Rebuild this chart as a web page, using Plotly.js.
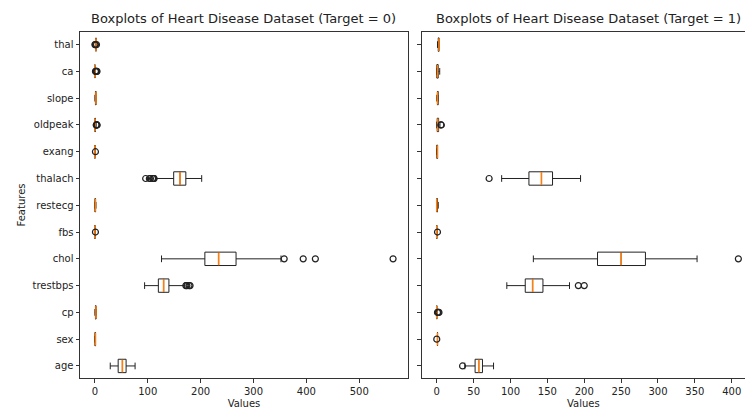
<!DOCTYPE html>
<html>
<head>
<meta charset="utf-8">
<script src="https://cdn.plot.ly/plotly-3.0.1.min.js"></script>
<style>html,body{margin:0;padding:0;background:#fff;overflow:hidden;}#chart{width:745px;height:412px;}</style>
</head>
<body>
<div id="chart"></div>
<script>
// Features (bottom to top)
var features = ['age','sex','cp','trestbps','chol','fbs','restecg','thalach','exang','oldpeak','slope','ca','thal'];

// Panel 1: Target = 0
var lf_t0  = [29, 0, 0,  94, 126, 0, 0, 115, 0, 0,   0, 0, 2];
var q1_t0  = [44, 0, 1, 120, 208, 0, 0, 149, 0, 0,   1, 0, 2];
var med_t0 = [52, 1, 2, 130, 234, 0, 1, 161, 0, 0.2, 2, 0, 2];
var q3_t0  = [59, 1, 2, 140, 267, 0, 1, 172, 0, 1.0, 2, 0, 2];
var uf_t0  = [76, 1, 3, 170, 352, 0, 2, 202, 0, 2.4, 2, 0, 2];
var outFeat_t0 = ['trestbps','trestbps','trestbps','trestbps','chol','chol','chol','chol','fbs','thalach','thalach','thalach','thalach','thalach','thalach','exang','oldpeak','oldpeak','oldpeak','oldpeak','oldpeak','ca','ca','ca','ca','thal','thal','thal'];
var outVal_t0  = [172, 174, 178, 180, 358, 394, 417, 564, 1, 96, 103, 105, 109, 111, 112, 1, 2.6, 2.8, 3.0, 3.5, 4.2, 1, 2, 3, 4, 0, 1, 3];

// Panel 2: Target = 1
var lf_t1  = [38, 1, 0,  95, 131, 0, 0,  88, 0, 0,   0, 0, 1];
var q1_t1  = [52, 1, 0, 120, 218, 0, 0, 125, 0, 0.6, 1, 0, 2];
var med_t1 = [57, 1, 0, 130, 250, 0, 0, 142, 1, 1.4, 1, 1, 3];
var q3_t1  = [62, 1, 0, 144, 283, 0, 1, 157, 1, 2.5, 2, 2, 3];
var uf_t1  = [77, 1, 0, 180, 353, 0, 2, 195, 1, 4.4, 2, 4, 3];
var outFeat_t1 = ['age','sex','cp','cp','cp','trestbps','trestbps','chol','fbs','thalach','oldpeak','oldpeak'];
var outVal_t1  = [35, 0, 1, 2, 3, 192, 200, 409, 1, 71, 5.6, 6.2];

var titles = ['Boxplots of Heart Disease Dataset (Target = 0)', 'Boxplots of Heart Disease Dataset (Target = 1)'];
var ticks0 = [0, 100, 200, 300, 400, 500];
var ticks1 = [0, 50, 100, 150, 200, 250, 300, 350, 400];

var pos = features.map(function(_, i){ return i + 1; });
function posOf(name){ return features.indexOf(name) + 1; }

function boxTrace(lf, q1, med, q3, uf, xa, ya){
  return {type:'box', orientation:'h', y:pos, q1:q1, median:med, q3:q3,
    lowerfence:lf, upperfence:uf, boxpoints:false, width:0.5, whiskerwidth:0.5,
    line:{color:'#222', width:1}, fillcolor:'rgba(0,0,0,0)', xaxis:xa, yaxis:ya, hoverinfo:'skip'};
}
function medTrace(med, xa, ya){
  var x = [], y = [];
  med.forEach(function(m, i){ x.push(m, m, null); y.push(pos[i]-0.24, pos[i]+0.24, null); });
  return {type:'scatter', mode:'lines', x:x, y:y, line:{color:'#ff7f0e', width:1.6}, xaxis:xa, yaxis:ya, hoverinfo:'skip'};
}
function outTrace(fs, vs, xa, ya){
  return {type:'scatter', mode:'markers', x:vs, y:fs.map(posOf), cliponaxis:false,
    marker:{symbol:'circle-open', size:6, color:'#222', line:{width:1.2, color:'#222'}}, xaxis:xa, yaxis:ya, hoverinfo:'skip'};
}

var data = [
  boxTrace(lf_t0, q1_t0, med_t0, q3_t0, uf_t0, 'x', 'y'),
  medTrace(med_t0, 'x', 'y'),
  outTrace(outFeat_t0, outVal_t0, 'x', 'y'),
  boxTrace(lf_t1, q1_t1, med_t1, q3_t1, uf_t1, 'x2', 'y2'),
  medTrace(med_t1, 'x2', 'y2'),
  outTrace(outFeat_t1, outVal_t1, 'x2', 'y2')
];

var axCommon = {showgrid:false, zeroline:false, showline:true, linecolor:'#333', linewidth:1,
  ticks:'outside', ticklen:3.5, tickcolor:'#333', tickfont:{size:10, color:'#222'}, ticklabeloverflow:'allow'};

var layout = {
  width:745, height:412, margin:{l:80, r:0, t:32, b:34},
  showlegend:false, paper_bgcolor:'#fff', plot_bgcolor:'#fff',
  font:{family:'DejaVu Sans', size:10, color:'#222'},
  xaxis:Object.assign({}, axCommon, {domain:[0, 0.4932], anchor:'y', range:[-28.2, 592.2], tickvals:ticks0, mirror:true,
    title:{text:'Values', standoff:4, font:{size:10}}}),
  yaxis:Object.assign({}, axCommon, {domain:[0,1], anchor:'x', range:[0.55, 13.47], tickvals:pos, ticktext:features, mirror:true,
    title:{text:'Features', standoff:4, font:{size:10}}}),
  xaxis2:Object.assign({}, axCommon, {domain:[0.5138, 1], anchor:'y2', range:[-20.45, 418], tickvals:ticks1, mirror:true,
    title:{text:'Values', standoff:4, font:{size:10}}}),
  yaxis2:Object.assign({}, axCommon, {domain:[0,1], anchor:'x2', range:[0.55, 13.47], tickvals:pos, showticklabels:false, mirror:false}),
  annotations:[
    {text:titles[0], xref:'paper', yref:'paper', x:0.2466, y:1.0376, xanchor:'center', yanchor:'middle', showarrow:false, font:{size:13, color:'#222'}},
    {text:titles[1], xref:'paper', yref:'paper', x:0.7654, y:1.0376, xanchor:'center', yanchor:'middle', showarrow:false, font:{size:13, color:'#222'}}
  ]
};

Plotly.newPlot('chart', data, layout, {staticPlot:true, displayModeBar:false});
</script>
</body>
</html>
